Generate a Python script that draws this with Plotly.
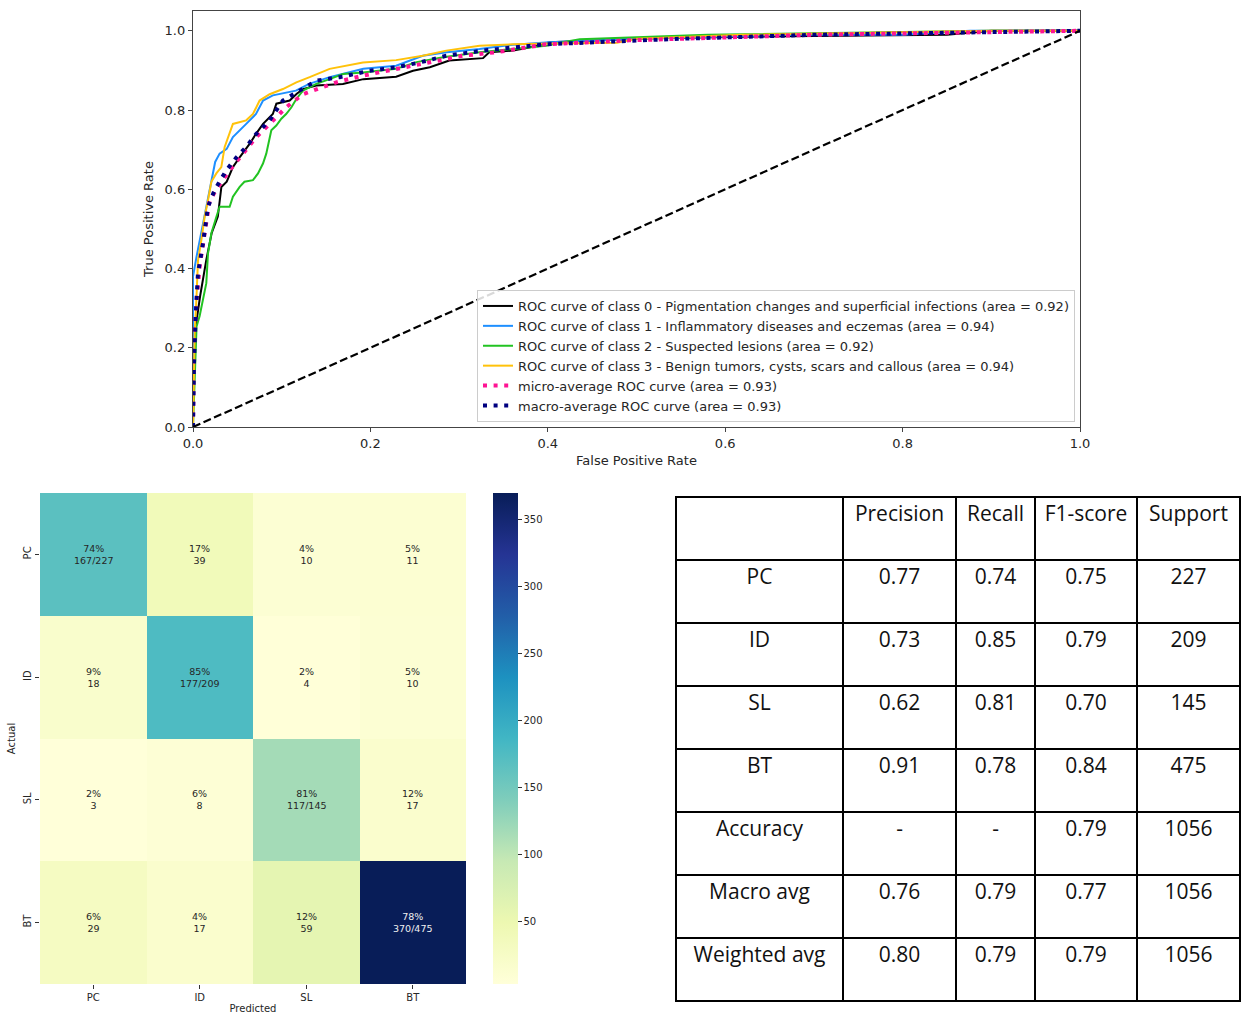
import plotly.graph_objects as go

W, H = 1242, 1014

# ---------------- ROC data ----------------
class_names = [
    "ROC curve of class 0 - Pigmentation changes and superficial infections (area = 0.92)",
    "ROC curve of class 1 - Inflammatory diseases and eczemas (area = 0.94)",
    "ROC curve of class 2 - Suspected lesions (area = 0.92)",
    "ROC curve of class 3 - Benign tumors, cysts, scars and callous (area = 0.94)",
]
micro_name = "micro-average ROC curve (area = 0.93)"
macro_name = "macro-average ROC curve (area = 0.93)"

fpr0 = [0, 0.0, 0.002, 0.008, 0.015, 0.021, 0.028, 0.032, 0.038, 0.045, 0.053, 0.064, 0.071, 0.079,
        0.090, 0.094, 0.109, 0.117, 0.124, 0.139, 0.169, 0.192, 0.229, 0.248, 0.267, 0.278, 0.289,
        0.327, 0.334, 0.361, 0.379, 0.402, 0.45, 0.52, 0.62, 0.85, 0.9, 1.0]
tpr0 = [0, 0.12, 0.237, 0.33, 0.422, 0.489, 0.531, 0.606, 0.619, 0.656, 0.682, 0.715, 0.740, 0.765,
        0.790, 0.816, 0.824, 0.841, 0.853, 0.862, 0.866, 0.878, 0.884, 0.899, 0.908, 0.916, 0.925,
        0.931, 0.946, 0.950, 0.958, 0.971, 0.975, 0.981, 0.985, 0.99, 1.0, 1.0]

fpr1 = [0, 0, 0.004, 0.009, 0.015, 0.021, 0.025, 0.030, 0.038, 0.045, 0.053, 0.060, 0.071, 0.079,
        0.090, 0.105, 0.116, 0.131, 0.154, 0.192, 0.229, 0.259, 0.286, 0.323, 0.361, 0.402, 0.5,
        0.68, 0.80, 0.876, 1.0]
tpr1 = [0, 0.38, 0.43, 0.489, 0.556, 0.623, 0.669, 0.690, 0.702, 0.732, 0.749, 0.765, 0.790, 0.824,
        0.837, 0.845, 0.849, 0.866, 0.883, 0.904, 0.912, 0.937, 0.946, 0.954, 0.965, 0.971, 0.98,
        0.99, 0.99, 1.0, 1.0]

fpr2 = [0, 0.002, 0.004, 0.0075, 0.0113, 0.015, 0.0169, 0.0207, 0.0263, 0.030, 0.0413, 0.045, 0.0526,
        0.058, 0.0676, 0.0733, 0.0789, 0.0826, 0.0883, 0.0939, 0.0996, 0.105, 0.111, 0.1165, 0.124,
        0.139, 0.154, 0.169, 0.1916, 0.229, 0.252, 0.282, 0.323, 0.361, 0.398, 0.417, 0.436, 0.58,
        0.77, 0.9, 1.0]
tpr2 = [0, 0.15, 0.254, 0.28, 0.32, 0.363, 0.438, 0.489, 0.53, 0.556, 0.556, 0.581, 0.606,
        0.619, 0.623, 0.64, 0.665, 0.69, 0.749, 0.761, 0.778, 0.79, 0.807, 0.828, 0.849,
        0.866, 0.878, 0.891, 0.895, 0.904, 0.921, 0.933, 0.946, 0.954, 0.962, 0.971, 0.979, 0.99,
        0.995, 1.0, 1.0]

fpr3 = [0, 0.0019, 0.0038, 0.0056, 0.0094, 0.0131, 0.0169, 0.0207, 0.0263, 0.0319, 0.0357, 0.0413,
        0.045, 0.060, 0.0676, 0.0751, 0.0864, 0.1014, 0.1165, 0.1315, 0.154, 0.1916, 0.229, 0.259,
        0.2855, 0.323, 0.361, 0.402, 0.478, 0.5, 0.62, 0.9, 1.0]
tpr3 = [0, 0.237, 0.32, 0.42, 0.472, 0.53, 0.572, 0.619, 0.64, 0.656, 0.707, 0.74,
        0.765, 0.774, 0.79, 0.824, 0.84, 0.853, 0.87, 0.883, 0.904, 0.92, 0.926, 0.937,
        0.95, 0.962, 0.966, 0.968, 0.97, 0.98, 0.99, 1.0, 1.0]

fpr_micro = [0, 0.001, 0.004, 0.0075, 0.0131, 0.0188, 0.0282, 0.0413, 0.0564, 0.0714, 0.0864, 0.105,
             0.124, 0.1427, 0.1615, 0.1916, 0.229, 0.267, 0.304, 0.342, 0.398, 0.492, 0.55, 0.7,
             0.85, 1.0]
tpr_micro = [0, 0.195, 0.32, 0.405, 0.489, 0.572, 0.606, 0.648, 0.69, 0.732, 0.765, 0.807,
             0.84, 0.856, 0.87, 0.887, 0.904, 0.92, 0.937, 0.946, 0.966, 0.976, 0.98, 0.99,
             0.995, 1.0]

fpr_macro = [0, 0.001, 0.003, 0.0056, 0.0113, 0.0169, 0.0244, 0.0376, 0.0488, 0.060, 0.0714, 0.0864,
             0.1014, 0.1202, 0.139, 0.1653, 0.199, 0.229, 0.2555, 0.2855, 0.327, 0.361, 0.398, 0.55,
             0.7, 0.85, 1.0]
tpr_macro = [0, 0.153, 0.28, 0.388, 0.464, 0.556, 0.598, 0.648, 0.68, 0.707, 0.74, 0.774,
             0.824, 0.849, 0.874, 0.883, 0.899, 0.908, 0.92, 0.937, 0.95, 0.958, 0.966, 0.98,
             0.99, 0.995, 1.0]

chance_x = [0, 1]
chance_y = [0, 1]
roc_ticks = [0.0, 0.2, 0.4, 0.6, 0.8, 1.0]

# ---------------- Confusion matrix data ----------------
cm_labels = ["PC", "ID", "SL", "BT"]
cm_counts = [
    [167, 39, 10, 11],
    [18, 177, 4, 10],
    [3, 8, 117, 17],
    [29, 17, 59, 370],
]
cbar_ticks = [50, 100, 150, 200, 250, 300, 350]

# ---------------- Classification report table ----------------
tbl_header = ["", "Precision", "Recall", "F1-score", "Support"]
tbl_rows = ["PC", "ID", "SL", "BT", "Accuracy", "Macro avg", "Weighted avg"]
tbl_precision = ["0.77", "0.73", "0.62", "0.91", "-", "0.76", "0.80"]
tbl_recall = ["0.74", "0.85", "0.81", "0.78", "-", "0.79", "0.79"]
tbl_f1 = ["0.75", "0.79", "0.70", "0.84", "0.79", "0.77", "0.79"]
tbl_support = ["227", "209", "145", "475", "1056", "1056", "1056"]

# ---------------- Figure ----------------
FONT = "DejaVu Sans"
fig = go.Figure()

class_colors = ["black", "#1e8fff", "#22c322", "#ffc20a"]
curves = [(fpr0, tpr0), (fpr1, tpr1), (fpr2, tpr2), (fpr3, tpr3)]
for (fx, ty), name, col in zip(curves, class_names, class_colors):
    fig.add_trace(go.Scatter(x=fx, y=ty, mode="lines", name=name,
                             line=dict(color=col, width=2), xaxis="x", yaxis="y"))
fig.add_trace(go.Scatter(x=fpr_micro, y=tpr_micro, mode="lines", name=micro_name,
                         line=dict(color="deeppink", width=4, dash="4px,6.6px"), xaxis="x", yaxis="y"))
fig.add_trace(go.Scatter(x=fpr_macro, y=tpr_macro, mode="lines", name=macro_name,
                         line=dict(color="navy", width=4, dash="4px,6.6px"), xaxis="x", yaxis="y"))
fig.add_trace(go.Scatter(x=chance_x, y=chance_y, mode="lines", showlegend=False,
                         line=dict(color="black", width=2.2, dash="8px,3.5px"), xaxis="x", yaxis="y"))

# Heatmap
row_tot = [sum(r) for r in cm_counts]
text = []
for i, r in enumerate(cm_counts):
    tr = []
    for j, v in enumerate(r):
        pct = round(100.0 * v / row_tot[i])
        if i == j:
            tr.append(f"{pct}%<br>{v}/{row_tot[i]}")
        else:
            tr.append(f"{pct}%<br>{v}")
    text.append(tr)

ylgnbu = [[0.0, "#ffffd9"], [0.125, "#edf8b1"], [0.25, "#c7e9b4"], [0.375, "#7fcdbb"],
          [0.5, "#41b6c4"], [0.625, "#1d91c0"], [0.75, "#225ea8"], [0.875, "#253494"],
          [1.0, "#081d58"]]
zmin = min(min(r) for r in cm_counts)
zmax = max(max(r) for r in cm_counts)
fig.add_trace(go.Heatmap(
    z=cm_counts, x=cm_labels, y=cm_labels, colorscale=ylgnbu, zmin=zmin, zmax=zmax,
    xaxis="x2", yaxis="y2", showscale=True, xgap=0, ygap=0,
    colorbar=dict(x=493 / W, xanchor="left", thickness=25, len=(984 - 493) / H, lenmode="fraction",
                  y=1 - 984 / H, yanchor="bottom", outlinewidth=0, ticks="outside", ticklen=4,
                  tickcolor="#333", tickvals=cbar_ticks, tickfont=dict(family=FONT, size=10, color="#262626"),
                  xpad=0, ypad=0),
))
for i, r in enumerate(cm_counts):
    for j, v in enumerate(r):
        fig.add_annotation(x=cm_labels[j], y=cm_labels[i], xref="x2", yref="y2", text=text[i][j],
                           showarrow=False,
                           font=dict(family=FONT, size=9.5, color="#f0f0f0" if v > 0.6 * zmax else "#262626"))

# Table
fig.add_trace(go.Table(
    domain=dict(x=[676 / W, 1240 / W], y=[0.005, 1 - 497 / H]),
    columnwidth=[167, 113, 79, 102, 103],
    header=dict(values=tbl_header, height=63, align="center", fill_color="white",
                line=dict(color="black", width=2),
                font=dict(family="Open Sans", size=21, color="#111")),
    cells=dict(values=[tbl_rows, tbl_precision, tbl_recall, tbl_f1, tbl_support], height=63,
               align="center", fill_color="white", line=dict(color="black", width=2),
               font=dict(family="Open Sans", size=21, color="#111")),
))

axis_common = dict(showline=True, linecolor="#444", linewidth=1.3, mirror=True, ticks="outside",
                   ticklen=4, tickcolor="#444", showgrid=False, zeroline=False)

fig.update_layout(
    width=W, height=H, margin=dict(l=0, r=0, t=0, b=0, autoexpand=False),
    paper_bgcolor="white", plot_bgcolor="white",
    font=dict(family=FONT, color="#262626"),
    showlegend=True,
    xaxis=dict(domain=[193 / W, 1080 / W], range=[0, 1], tickvals=roc_ticks, tickformat=".1f",
               title=dict(text="False Positive Rate", font=dict(size=13), standoff=6),
               tickfont=dict(size=13), anchor="y", **axis_common),
    yaxis=dict(domain=[1 - 427 / H, 1 - 11 / H], range=[0, 1.05], tickvals=roc_ticks, tickformat=".1f",
               title=dict(text="True Positive Rate", font=dict(size=13), standoff=8),
               tickfont=dict(size=13), anchor="x", **axis_common),
    xaxis2=dict(domain=[40 / W, 466 / W], anchor="y2", showline=False, showgrid=False, zeroline=False,
                ticks="outside", ticklen=4, tickcolor="#333", tickfont=dict(size=10),
                title=dict(text="Predicted", font=dict(size=10), standoff=2)),
    yaxis2=dict(domain=[1 - 984 / H, 1 - 493 / H], anchor="x2", autorange="reversed", showline=False,
                showgrid=False, zeroline=False, ticks="outside", ticklen=4, tickcolor="#333",
                tickangle=-90, tickfont=dict(size=10),
                title=dict(text="Actual", font=dict(size=10), standoff=4)),
    legend=dict(x=1075 / W, xanchor="right", y=1 - 422 / H, yanchor="bottom",
                bgcolor="rgba(255,255,255,0.85)", bordercolor="#cccccc", borderwidth=1,
                font=dict(family=FONT, size=13, color="#262626"), itemwidth=30, tracegroupgap=0),
)

fig.write_html("out.html")
